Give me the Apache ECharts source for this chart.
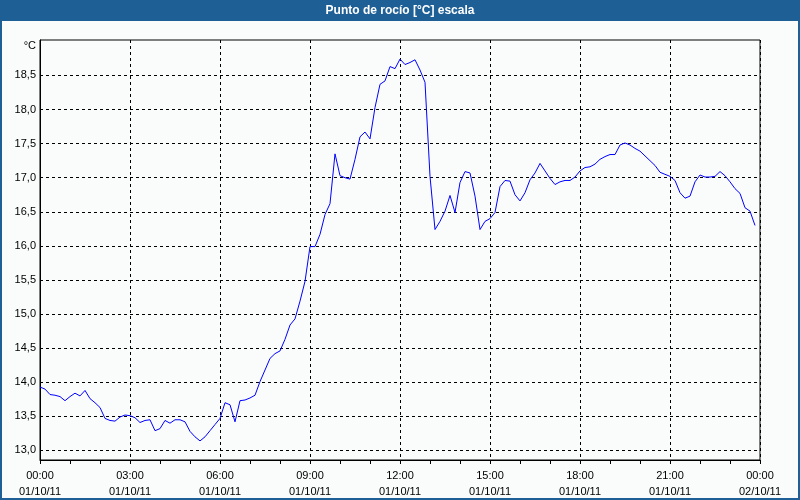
<!DOCTYPE html>
<html>
<head>
<meta charset="utf-8">
<script src="https://cdn.jsdelivr.net/npm/echarts@6/dist/echarts.min.js"></script>
<style>
html,body{margin:0;padding:0;background:#fafcfc;}
#chart{width:800px;height:500px;}
</style>
</head>
<body>
<div id="chart"></div>
<script>
var titleText = 'Punto de rocío [°C] escala';
var unitLabel = '°C';
var startDate = '01/10/11';
var endDate = '02/10/11';
var times = [
'00:00','00:10','00:20','00:30','00:40','00:50','01:00','01:10','01:20','01:30','01:40','01:50',
'02:00','02:10','02:20','02:30','02:40','02:50','03:00','03:10','03:20','03:30','03:40','03:50',
'04:00','04:10','04:20','04:30','04:40','04:50','05:00','05:10','05:20','05:30','05:40','05:50',
'06:00','06:10','06:20','06:30','06:40','06:50','07:00','07:10','07:20','07:30','07:40','07:50',
'08:00','08:10','08:20','08:30','08:40','08:50','09:00','09:10','09:20','09:30','09:40','09:50',
'10:00','10:10','10:20','10:30','10:40','10:50','11:00','11:10','11:20','11:30','11:40','11:50',
'12:00','12:10','12:20','12:30','12:40','12:50','13:00','13:10','13:20','13:30','13:40','13:50',
'14:00','14:10','14:20','14:30','14:40','14:50','15:00','15:10','15:20','15:30','15:40','15:50',
'16:00','16:10','16:20','16:30','16:40','16:50','17:00','17:10','17:20','17:30','17:40','17:50',
'18:00','18:10','18:20','18:30','18:40','18:50','19:00','19:10','19:20','19:30','19:40','19:50',
'20:00','20:10','20:20','20:30','20:40','20:50','21:00','21:10','21:20','21:30','21:40','21:50',
'22:00','22:10','22:20','22:30','22:40','22:50','23:00','23:10','23:20','23:30','23:40','23:50',
'00:00'
];
var dewPoint = [
13.93,13.90,13.82,13.81,13.79,13.73,13.79,13.84,13.80,13.88,13.76,13.70,
13.63,13.47,13.44,13.43,13.49,13.52,13.51,13.48,13.41,13.44,13.45,13.29,
13.32,13.44,13.40,13.45,13.45,13.42,13.28,13.20,13.14,13.20,13.29,13.38,
13.47,13.70,13.67,13.42,13.73,13.74,13.77,13.81,14.01,14.18,14.35,14.42,
14.46,14.63,14.84,14.93,15.19,15.48,15.99,15.99,16.17,16.46,16.62,17.35,
17.03,17.00,16.98,17.27,17.60,17.67,17.57,18.03,18.37,18.42,18.63,18.60,
18.74,18.66,18.69,18.73,18.58,18.40,17.02,16.24,16.36,16.51,16.74,16.49,
16.93,17.09,17.07,16.73,16.24,16.36,16.40,16.49,16.87,16.96,16.95,16.75,
16.66,16.78,16.97,17.07,17.21,17.10,16.99,16.90,16.94,16.96,16.96,17.01,
17.10,17.15,17.16,17.20,17.27,17.31,17.34,17.34,17.48,17.51,17.48,17.43,
17.39,17.32,17.25,17.18,17.08,17.05,17.02,16.96,16.78,16.70,16.73,16.94,
17.04,17.01,17.01,17.02,17.09,17.03,16.94,16.84,16.77,16.56,16.51,16.30
];
var yTicks = [13.0,13.5,14.0,14.5,15.0,15.5,16.0,16.5,17.0,17.5,18.0,18.5];
var yMin = 12.86, yMax = 19.02;

var font = 'Liberation Sans';
var chart = echarts.init(document.getElementById('chart'), null, {renderer:'canvas'});
var lastIdx = times.length - 1;
chart.setOption({
  animation: false,
  backgroundColor: '#fafcfc',
  grid: {left: 40, right: 40, top: 40, bottom: 40, show: true, borderColor: '#000', borderWidth: 1, backgroundColor: 'transparent'},
  graphic: [
    {type:'rect', z: 100, shape:{x:0, y:0, width:800, height:21}, style:{fill:'#1e5f96'}},
    {type:'text', z: 101, x: 400, y: 10.5, style:{text: titleText, fill:'#fff', font:'bold 12px "' + font + '"', align:'center', verticalAlign:'middle'}},
    {type:'rect', z: 100, shape:{x:1, y:1, width:798, height:498}, style:{fill:'none', stroke:'#1e5f96', lineWidth:2}},
    {type:'text', z: 101, x: 36, y: 46, style:{text: unitLabel, fill:'#000', font:'11px "' + font + '"', align:'right', verticalAlign:'middle'}}
  ],
  xAxis: {
    type: 'category',
    data: times,
    boundaryGap: false,
    axisLine: {show: true, lineStyle: {color: '#000', width: 1}},
    axisTick: {show: true, interval: 5, length: 4, lineStyle: {color: '#000'}},
    axisLabel: {
      interval: 17, margin: 8, color: '#000', fontFamily: font, fontSize: 11, lineHeight: 16,
      formatter: function (v, i) { return v + '\n' + (i === lastIdx ? endDate : startDate); }
    },
    splitLine: {show: true, interval: 17, lineStyle: {color: '#000', type: [3, 3], width: 1}}
  },
  yAxis: {
    type: 'value',
    min: yMin, max: yMax,
    axisLine: {show: true, lineStyle: {color: '#000', width: 1}},
    axisTick: {show: false, customValues: yTicks},
    axisLabel: {
      customValues: yTicks, margin: 4, color: '#000', fontFamily: font, fontSize: 11,
      formatter: function (v) { return v.toFixed(1).replace('.', ','); }
    },
    splitLine: {show: true, lineStyle: {color: '#000', type: [3, 3], width: 1}}
  },
  series: [{
    type: 'line',
    data: dewPoint,
    symbol: 'none',
    smooth: false,
    lineStyle: {color: '#0000ff', width: 1},
    itemStyle: {color: '#0000ff'}
  }]
});
</script>
</body>
</html>
